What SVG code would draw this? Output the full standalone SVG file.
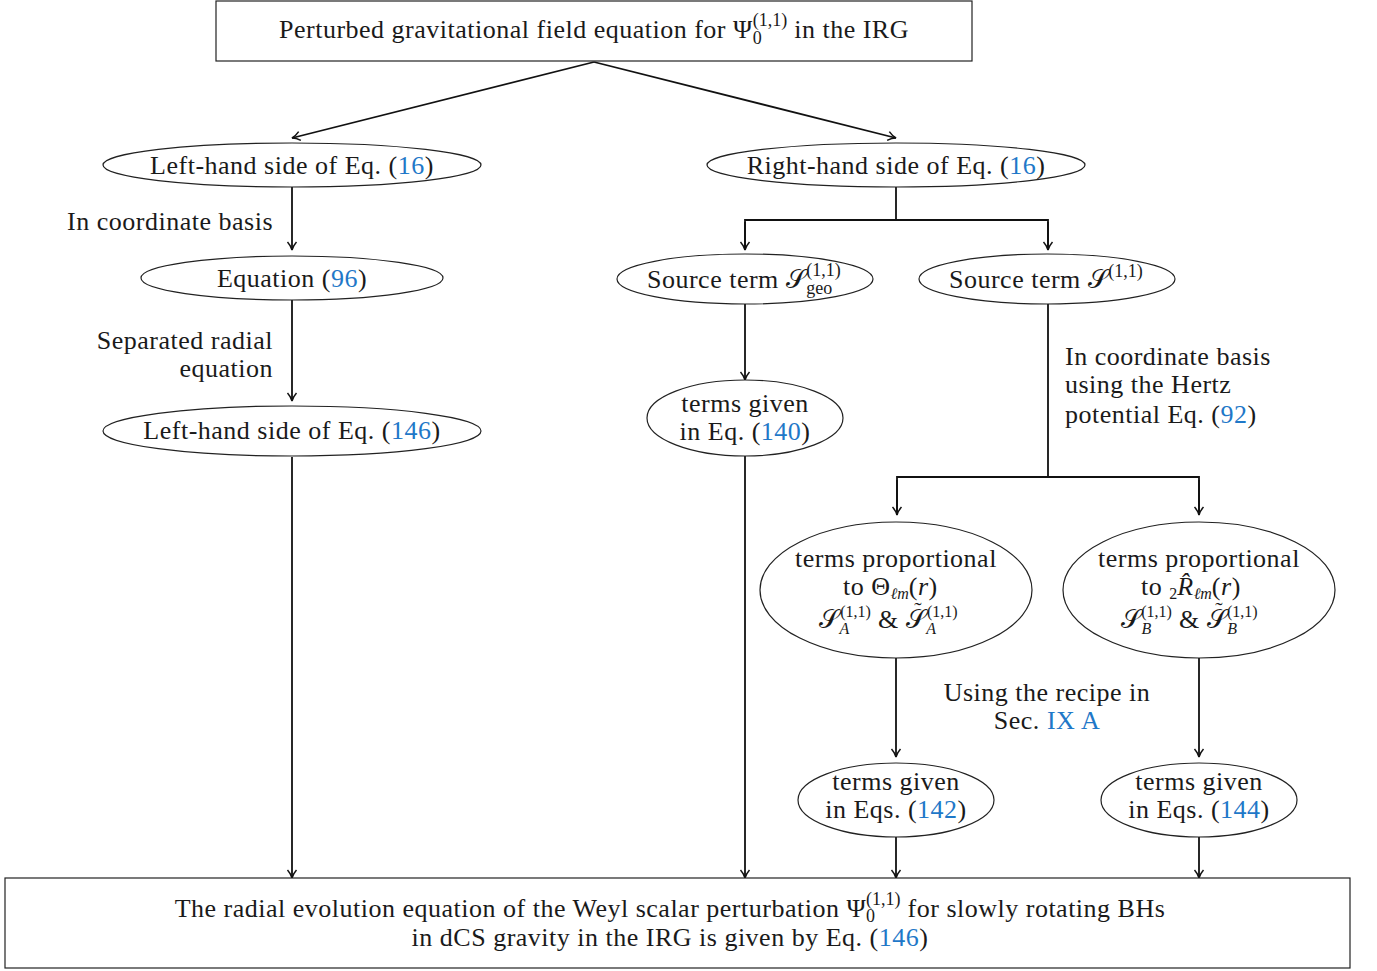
<svg xmlns="http://www.w3.org/2000/svg" width="1377" height="971" viewBox="0 0 1377 971">
<style>
text{font-family:"Liberation Serif","DejaVu Serif",serif;font-size:26px;letter-spacing:0.5px;fill:#1a1a1a}
.m{text-anchor:middle}
.e{text-anchor:end}
.i{font-style:italic}
.s{font-size:18px;letter-spacing:0}
.t{font-size:16px;letter-spacing:0}
.w{font-size:22px;letter-spacing:0}
.l{fill:#1f78c8}
.node rect,.node ellipse{fill:#fff;stroke:#222;stroke-width:1.2}
.c path{fill:none;stroke:#111;stroke-width:1.8}
</style>
<defs>
<marker id="a" viewBox="0 0 12 12" refX="10" refY="6" markerWidth="12" markerHeight="12" markerUnits="userSpaceOnUse" orient="auto">
<path d="M2,1.5 Q6,5 10,6 Q6,7 2,10.5" fill="none" stroke="#111" stroke-width="1.5"/>
</marker>
</defs>
<g class="c">
<path d="M594,62 L292,138" marker-end="url(#a)"/>
<path d="M594,62 L896,138" marker-end="url(#a)"/>
<path d="M292,187 V250" marker-end="url(#a)"/>
<path d="M292,300 V401" marker-end="url(#a)"/>
<path d="M292,457 V878" marker-end="url(#a)"/>
<path d="M896,187 V220 M745,250 V220 H1048 V250"/>
<path d="M745,222 V250" marker-end="url(#a)"/>
<path d="M1048,222 V250" marker-end="url(#a)"/>
<path d="M745,304 V380" marker-end="url(#a)"/>
<path d="M745,456 V878" marker-end="url(#a)"/>
<path d="M1048,304 V477 M897,515 V477 H1199 V515"/>
<path d="M897,480 V515" marker-end="url(#a)"/>
<path d="M1199,480 V515" marker-end="url(#a)"/>
<path d="M896,658 V757" marker-end="url(#a)"/>
<path d="M1199,658 V757" marker-end="url(#a)"/>
<path d="M896,837 V878" marker-end="url(#a)"/>
<path d="M1199,837 V878" marker-end="url(#a)"/>
</g>
<g id="top" class="node">
<rect x="216" y="1" width="756" height="60"/>
<text class="m" x="594" y="38">Perturbed gravitational field equation for Ψ<tspan class="s" dy="6">0</tspan><tspan class="s" dx="-9" dy="-18">(1,1)</tspan><tspan dy="12"> in the IRG</tspan></text>
</g>
<g id="lhs" class="node">
<ellipse cx="292" cy="165" rx="189" ry="22"/>
<text class="m" x="292" y="174">Left-hand side of Eq. (<tspan class="l">16</tspan>)</text>
</g>
<g id="rhs" class="node">
<ellipse cx="896" cy="165" rx="189" ry="22"/>
<text class="m" x="896" y="174">Right-hand side of Eq. (<tspan class="l">16</tspan>)</text>
</g>
<g id="lbl-coord">
<text class="e" x="273" y="230">In coordinate basis</text>
</g>
<g id="eq96" class="node">
<ellipse cx="292" cy="278" rx="151" ry="22"/>
<text class="m" x="292" y="287">Equation (<tspan class="l">96</tspan>)</text>
</g>
<g id="lbl-sep">
<text class="e" x="273" y="349">Separated radial</text>
<text class="e" x="273" y="377">equation</text>
</g>
<g id="lhs146" class="node">
<ellipse cx="292" cy="431" rx="189" ry="25"/>
<text class="m" x="292" y="439">Left-hand side of Eq. (<tspan class="l">146</tspan>)</text>
</g>
<g id="sgeo" class="node">
<ellipse cx="745" cy="279" rx="128" ry="25"/>
<text x="647" y="288">Source term 𝒮<tspan class="s" dy="6">geo</tspan><tspan class="s" dx="-26" dy="-18">(1,1)</tspan></text>
</g>
<g id="s11" class="node">
<ellipse cx="1047" cy="279" rx="128" ry="25"/>
<text x="949" y="288">Source term 𝒮<tspan class="s" dy="-11">(1,1)</tspan></text>
</g>
<g id="t140" class="node">
<ellipse cx="745" cy="418" rx="98" ry="38"/>
<text class="m" x="745" y="412">terms given</text>
<text class="m" x="745" y="440">in Eq. (<tspan class="l">140</tspan>)</text>
</g>
<g id="lbl-hertz">
<text x="1065" y="365">In coordinate basis</text>
<text x="1065" y="393">using the Hertz</text>
<text x="1065" y="423">potential Eq. (<tspan class="l">92</tspan>)</text>
</g>
<g id="tA" class="node">
<ellipse cx="896" cy="590" rx="136" ry="68"/>
<text class="m" x="896" y="567">terms proportional</text>
<text x="843" y="595">to Θ<tspan class="i t" dy="4">ℓm</tspan><tspan dy="-4">(</tspan><tspan class="i">r</tspan>)</text>
<text x="819" y="628">𝒮<tspan class="i t" dy="6">A</tspan><tspan class="t" dx="-9" dy="-17">(1,1)</tspan><tspan dy="11"> &amp; </tspan>𝒮<tspan class="w" dx="-12" dy="-11">˜</tspan><tspan class="i t" dx="4.7" dy="17">A</tspan><tspan class="t" dx="-9" dy="-17">(1,1)</tspan></text>
</g>
<g id="tB" class="node">
<ellipse cx="1199" cy="590" rx="136" ry="68"/>
<text class="m" x="1199" y="567">terms proportional</text>
<text x="1141" y="595">to <tspan class="t" dy="4">2</tspan><tspan class="i" dy="-4">R̂</tspan><tspan class="i t" dy="4">ℓm</tspan><tspan dy="-4">(</tspan><tspan class="i">r</tspan>)</text>
<text x="1121" y="628">𝒮<tspan class="i t" dy="6">B</tspan><tspan class="t" dx="-10" dy="-17">(1,1)</tspan><tspan dy="11"> &amp; </tspan>𝒮<tspan class="w" dx="-12" dy="-11">˜</tspan><tspan class="i t" dx="4.7" dy="17">B</tspan><tspan class="t" dx="-10" dy="-17">(1,1)</tspan></text>
</g>
<g id="lbl-recipe">
<text class="m" x="1047" y="701">Using the recipe in</text>
<text class="m" x="1047" y="729">Sec. <tspan class="l">IX A</tspan></text>
</g>
<g id="t142" class="node">
<ellipse cx="896" cy="800" rx="98" ry="37"/>
<text class="m" x="896" y="790">terms given</text>
<text class="m" x="896" y="818">in Eqs. (<tspan class="l">142</tspan>)</text>
</g>
<g id="t144" class="node">
<ellipse cx="1199" cy="800" rx="98" ry="37"/>
<text class="m" x="1199" y="790">terms given</text>
<text class="m" x="1199" y="818">in Eqs. (<tspan class="l">144</tspan>)</text>
</g>
<g id="bottom" class="node">
<rect x="5" y="878" width="1345" height="90"/>
<text class="m" x="670" y="917">The radial evolution equation of the Weyl scalar perturbation Ψ<tspan class="s" dy="5">0</tspan><tspan class="s" dx="-9" dy="-17">(1,1)</tspan><tspan dy="12"> for slowly rotating BHs</tspan></text>
<text class="m" x="670" y="946">in dCS gravity in the IRG is given by Eq. (<tspan class="l">146</tspan>)</text>
</g>
</svg>
